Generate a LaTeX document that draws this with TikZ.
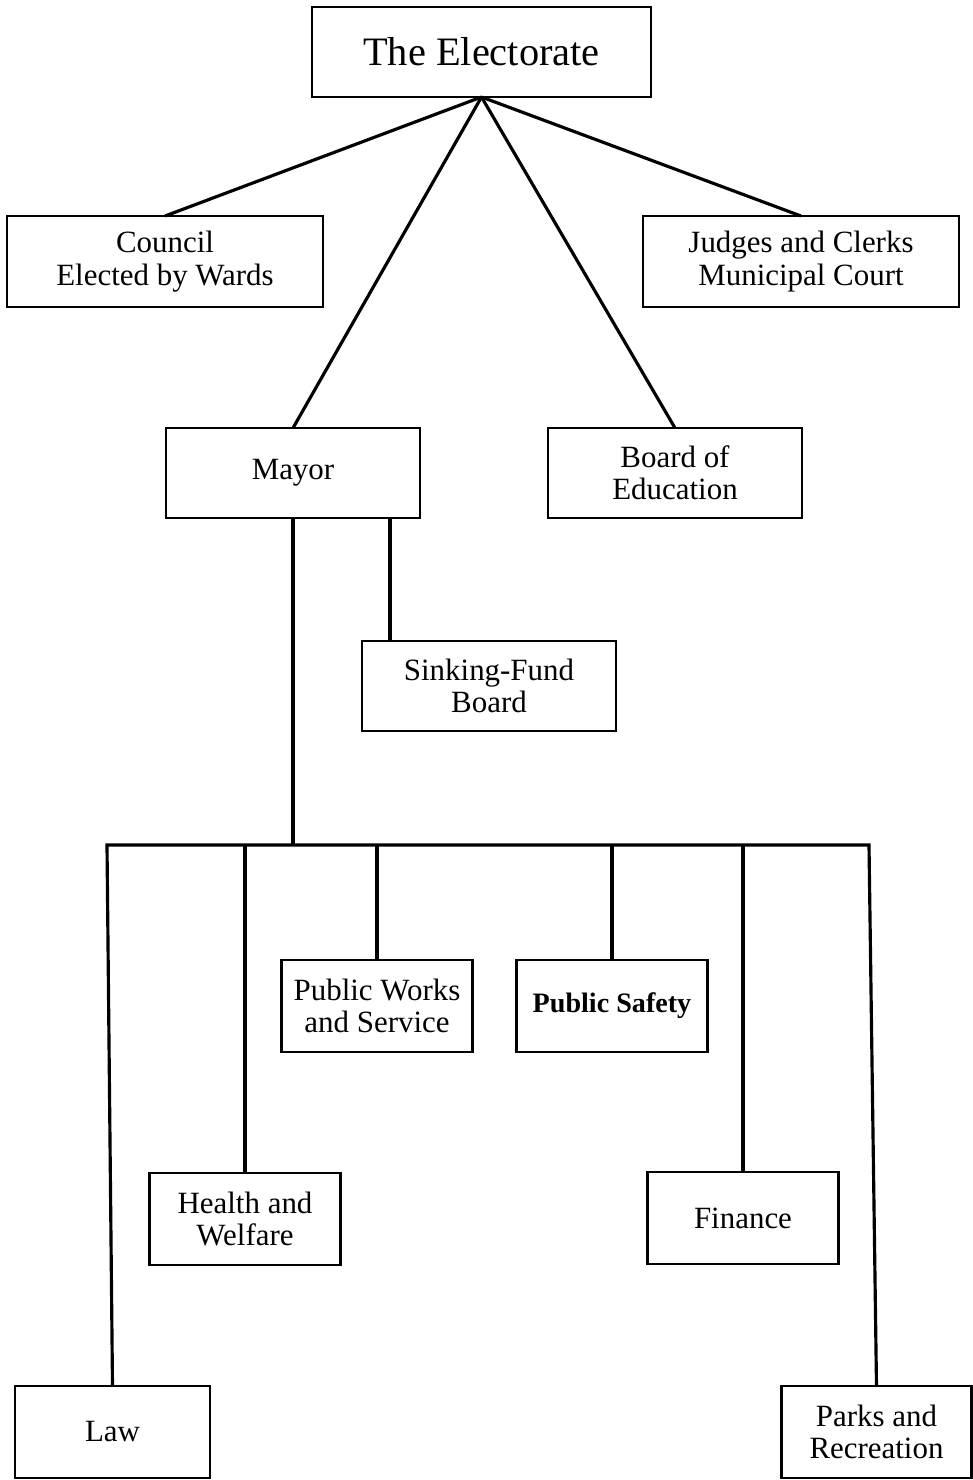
\documentclass[tikz,border=0pt]{standalone}
\usepackage{fontspec}
\setmainfont{Liberation Serif}
\usetikzlibrary{positioning}
\tikzset{
  rootbox/.style={
    rectangle, draw=black, line width=0.8pt, text centered, outer sep=0pt,
    minimum width=3.39cm, minimum height=0.9cm, font=\fontsize{11.5}{13}\selectfont
  },
  widebox/.style={
    rectangle, draw=black, line width=0.8pt, align=center, inner xsep=2pt, outer sep=0pt,
    minimum width=3.16cm, minimum height=0.91cm, font=\fontsize{8.8}{9.2}\selectfont
  },
  officebox/.style={
    widebox, minimum width=2.54cm, minimum height=0.9cm
  },
  deptbox/.style={
    widebox, minimum width=1.91cm, minimum height=0.92cm
  },
  link/.style={line width=0.9pt}
}

\begin{document}
\begin{tikzpicture}[node distance=0.5cm]
\useasboundingbox (0,0) rectangle (9.72,-14.8);

% Electorate and elected offices
\node[rootbox] (elect) at (4.815,-0.52) {The Electorate};
\node[widebox, below left=1.19cm and -0.11cm of elect] (council) {Council\\Elected by Wards};
\node[widebox, right=3.2cm of council] (judges) {Judges and Clerks\\Municipal Court};
\node[officebox, below=1.21cm of council, xshift=1.28cm] (mayor) {Mayor};
\node[officebox, right=1.28cm of mayor] (board) {Board of\\Education};
\node[officebox, below right=1.23cm and -0.58cm of mayor] (sinking) {Sinking-Fund\\Board};

% Departments under the mayor
\node[deptbox, below=2.29cm of sinking, xshift=-1.12cm] (works) {Public Works\\and Service};
\node[deptbox, right=0.44cm of works, font=\fontsize{8}{9}\selectfont\bfseries] (safety) {Public Safety};
\node[deptbox, below=1.21cm of works, xshift=-1.32cm] (health) {Health and\\Welfare};
\node[deptbox, below=1.2cm of safety, xshift=1.31cm] (finance) {Finance};
\node[deptbox, minimum width=1.95cm, below=1.21cm of health, xshift=-1.325cm] (law) {Law};
\node[deptbox, minimum width=1.9cm, below=1.22cm of finance, xshift=1.335cm] (parks) {Parks and\\Recreation};

% Bus and junctions
\coordinate (busL) at (1.07,-8.45);
\coordinate (busR) at (8.69,-8.45);
\coordinate[xshift=-0.3cm] (sfjoin) at (mayor.south east);

% Lines from the electorate
\draw[link] (elect.south) -- (council.north);
\draw[link] (elect.south) -- (mayor.north);
\draw[link] (elect.south) -- (board.north);
\draw[link] (elect.south) -- (judges.north);

% Lines from the mayor
\draw[link] (sfjoin) -- (sfjoin |- sinking.north);
\draw[link] (mayor.south) -- (mayor.south |- busL);
\draw[link] (law.north) -- (busL) -- (busR) -- (parks.north);
\draw[link] (health.north |- busL) -- (health.north);
\draw[link] (works.north |- busL) -- (works.north);
\draw[link] (safety.north |- busL) -- (safety.north);
\draw[link] (finance.north |- busL) -- (finance.north);

\end{tikzpicture}
\end{document}
